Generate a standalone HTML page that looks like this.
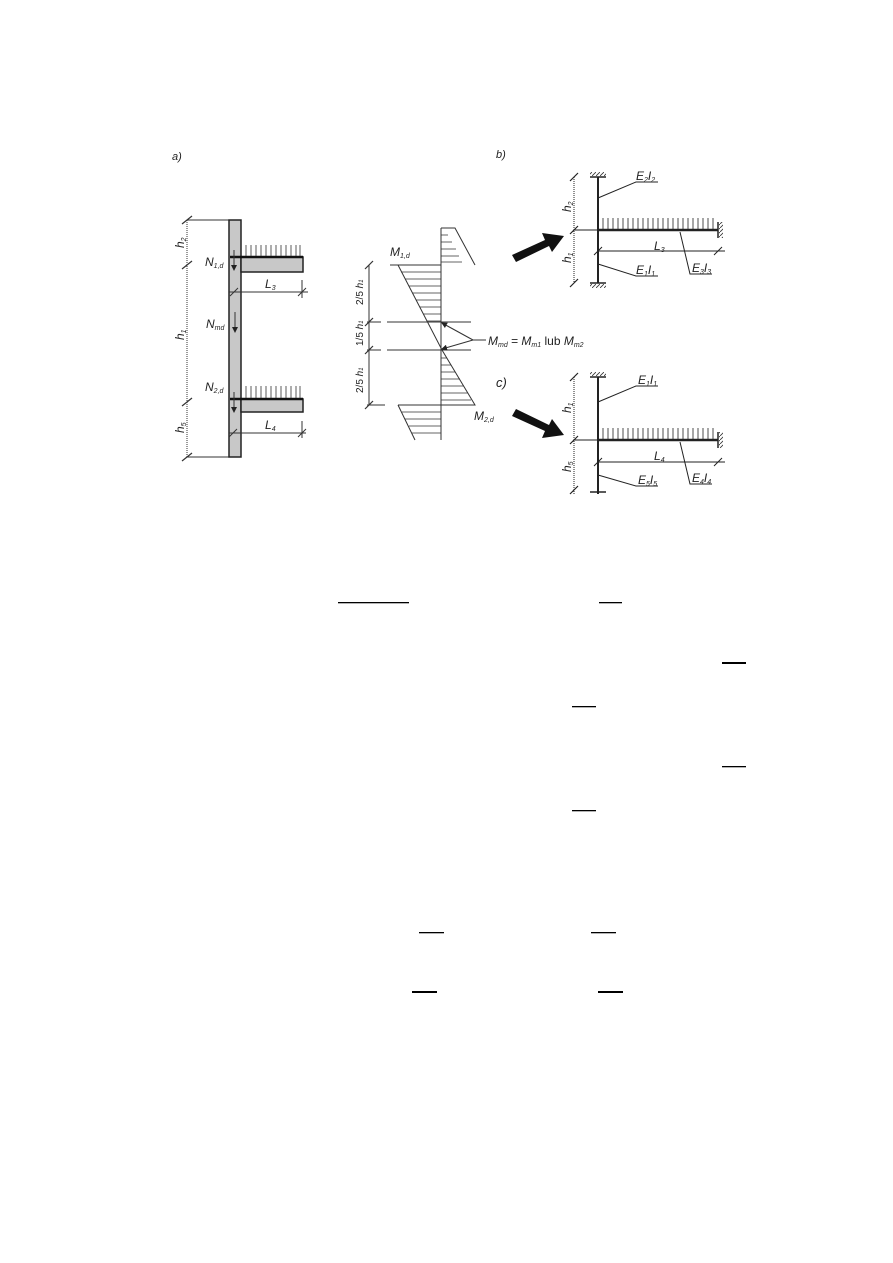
<!DOCTYPE html>
<html><head><meta charset="utf-8"><style>
html,body{margin:0;padding:0;background:#fff}
svg{display:block}
text{font-family:"Liberation Sans",sans-serif;font-style:italic;fill:#222}
</style></head><body>
<svg width="893" height="1263" viewBox="0 0 893 1263" xmlns="http://www.w3.org/2000/svg">
<defs>
<pattern id="hs" width="4" height="4" patternUnits="userSpaceOnUse"><path d="M0 4L4 0" stroke="#333" stroke-width="0.8"/></pattern>
<marker id="ar" markerWidth="6" markerHeight="6" refX="5" refY="3" orient="auto"><path d="M0 0L6 3L0 6z" fill="#222"/></marker>
</defs>
<g stroke="#333" fill="none" stroke-width="1">
<!-- a) -->
<text x="172" y="160" font-size="11" font-style="normal" stroke="none">a)</text>
<line x1="187" y1="220" x2="187" y2="457" stroke-dasharray="1 1"/>
<line x1="187" y1="220" x2="229" y2="220"/>
<line x1="187" y1="457" x2="229" y2="457"/>
<g stroke-width="1.2">
<line x1="182" y1="224" x2="192" y2="216"/><line x1="182" y1="269" x2="192" y2="261"/>
<line x1="182" y1="406" x2="192" y2="398"/><line x1="182" y1="461" x2="192" y2="453"/>
</g>
<rect x="229" y="220" width="12" height="237" fill="#c8c8c8" stroke="#222" stroke-width="1.5"/>
<rect x="241" y="257" width="62" height="15" fill="#c8c8c8" stroke="#222" stroke-width="1.5"/>
<rect x="241" y="399" width="62" height="13" fill="#c8c8c8" stroke="#222" stroke-width="1.5"/>
<line x1="230" y1="257" x2="303" y2="257" stroke="#111" stroke-width="2.5"/>
<line x1="230" y1="399" x2="303" y2="399" stroke="#111" stroke-width="2.5"/>
<g stroke="#333" stroke-width="0.8">
<path d="M246 245v11M251 245v11M256 245v11M261 245v11M266 245v11M271 245v11M276 245v11M281 245v11M286 245v11M291 245v11M296 245v11M300 245v11"/>
<path d="M246 386v12M251 386v12M256 386v12M261 386v12M266 386v12M271 386v12M276 386v12M281 386v12M286 386v12M291 386v12M296 386v12M300 386v12"/>
</g>
<line x1="234" y1="250" x2="234" y2="270" marker-end="url(#ar)"/>
<line x1="235" y1="312" x2="235" y2="332" marker-end="url(#ar)"/>
<line x1="234" y1="392" x2="234" y2="412" marker-end="url(#ar)"/>
<line x1="229" y1="292" x2="308" y2="292"/>
<line x1="229" y1="433" x2="306" y2="433"/>
<line x1="302" y1="280" x2="302" y2="298"/><line x1="302" y1="421" x2="302" y2="438"/>
<line x1="298" y1="296" x2="306" y2="288"/><line x1="298" y1="437" x2="306" y2="429"/>
<line x1="230" y1="296" x2="238" y2="288"/><line x1="229" y1="437" x2="237" y2="429"/>
</g>
<g font-size="12" stroke="none">
<text transform="translate(184,248) rotate(-90)">h<tspan font-size="7" dy="2">2</tspan></text>
<text transform="translate(184,340) rotate(-90)">h<tspan font-size="7" dy="2">1</tspan></text>
<text transform="translate(184,433) rotate(-90)">h<tspan font-size="7" dy="2">5</tspan></text>
<text x="205" y="266">N<tspan font-size="7" dy="2">1,d</tspan></text>
<text x="206" y="328">N<tspan font-size="7" dy="2">md</tspan></text>
<text x="205" y="391">N<tspan font-size="7" dy="2">2,d</tspan></text>
<text x="265" y="288">L<tspan font-size="7" dy="2">3</tspan></text>
<text x="265" y="429">L<tspan font-size="7" dy="2">4</tspan></text>
</g>
<!-- moment diagram -->
<g stroke="#333" fill="none" stroke-width="1">
<line x1="441" y1="228" x2="441" y2="440"/>
<path d="M441 228L455 228L475 265" />
<path d="M398 265L441 265M398 265L442 350L475 405L441 405"/>
<path d="M398 405L415 440M398 405L441 405"/>
<line x1="390" y1="265" x2="398" y2="265"/>
<line x1="367" y1="405" x2="385" y2="405"/>
<line x1="367" y1="322" x2="400" y2="322" stroke-dasharray="14 6"/>
<line x1="400" y1="322" x2="471" y2="322"/>
<line x1="367" y1="350" x2="400" y2="350" stroke-dasharray="14 6"/>
<line x1="400" y1="350" x2="471" y2="350"/>
<g stroke-width="0.7">
<path d="M441 235h7M441 242h11M441 249h15M441 256h18M441 262h21"/>
<path d="M401 272h40M405 279h36M409 286h32M412 293h29M416 300h25M420 307h21M423 314h18M427 321h14"/>
<path d="M441 358h6M441 365h10M441 372h14M441 379h19M441 386h23M441 393h27M441 400h30"/>
<path d="M402 412h39M405 419h36M409 426h32M412 433h29"/>
</g>
<line x1="369" y1="265" x2="369" y2="405"/>
<g stroke-width="1.2"><line x1="365" y1="269" x2="373" y2="261"/><line x1="365" y1="326" x2="373" y2="318"/><line x1="365" y1="354" x2="373" y2="346"/><line x1="365" y1="409" x2="373" y2="401"/></g>
<line x1="473" y1="340" x2="442" y2="323" marker-end="url(#ar)"/>
<line x1="473" y1="340" x2="442" y2="349" marker-end="url(#ar)"/>
<line x1="473" y1="340" x2="486" y2="340"/>
</g>
<g font-size="12" stroke="none">
<text x="390" y="256">M<tspan font-size="7" dy="2">1,d</tspan></text>
<text x="474" y="420">M<tspan font-size="7" dy="2">2,d</tspan></text>
<text x="488" y="345">M<tspan font-size="7" dy="2">md</tspan><tspan dy="-2" font-style="normal"> = </tspan>M<tspan font-size="7" dy="2">m1</tspan><tspan dy="-2" font-style="normal"> lub </tspan>M<tspan font-size="7" dy="2">m2</tspan></text>
<text transform="translate(363,305) rotate(-90)" font-size="10"><tspan font-style="normal">2/5</tspan> h<tspan font-size="6">1</tspan></text>
<text transform="translate(363,346) rotate(-90)" font-size="10"><tspan font-style="normal">1/5</tspan> h<tspan font-size="6">1</tspan></text>
<text transform="translate(363,393) rotate(-90)" font-size="10"><tspan font-style="normal">2/5</tspan> h<tspan font-size="6">1</tspan></text>
<text x="496" y="387" font-style="normal" font-size="13">c)</text>
<text x="496" y="158" font-style="normal" font-size="11">b)</text>
</g>
<!-- big arrows -->
<path d="M512 255L545 240L542 233L564 236L552 252L549 246L516 262Z" fill="#111"/>
<path d="M512 416L545 431L542 438L564 435L552 419L549 425L516 409Z" fill="#111"/>
<!-- b) -->
<g stroke="#222" fill="none" stroke-width="1">
<line x1="598" y1="177" x2="598" y2="283" stroke-width="2"/>
<line x1="590" y1="177" x2="606" y2="177" stroke-width="1.5"/>
<rect x="590" y="172" width="16" height="4" fill="url(#hs)" stroke="none"/>
<line x1="590" y1="283" x2="606" y2="283" stroke-width="1.5"/>
<rect x="590" y="284" width="16" height="4" fill="url(#hs)" stroke="none"/>
<line x1="598" y1="230" x2="718" y2="230" stroke-width="2.5"/>
<line x1="718" y1="222" x2="718" y2="238" stroke-width="1.5"/>
<rect x="719" y="222" width="4" height="16" fill="url(#hs)" stroke="none"/>
<path d="M603 218v11M608 218v11M613 218v11M618 218v11M623 218v11M628 218v11M633 218v11M638 218v11M643 218v11M648 218v11M653 218v11M658 218v11M663 218v11M668 218v11M673 218v11M678 218v11M683 218v11M688 218v11M693 218v11M698 218v11M703 218v11M708 218v11M713 218v11" stroke-width="0.8"/>
<line x1="574" y1="177" x2="574" y2="283" stroke-dasharray="1 1"/>
<line x1="574" y1="230" x2="598" y2="230"/>
<g stroke-width="1.2"><line x1="570" y1="181" x2="578" y2="173"/><line x1="570" y1="234" x2="578" y2="226"/><line x1="570" y1="287" x2="578" y2="279"/></g>
<line x1="598" y1="251" x2="725" y2="251"/>
<line x1="594" y1="255" x2="602" y2="247"/><line x1="714" y1="255" x2="722" y2="247"/>
<path d="M598 198L636 182L658 182"/>
<path d="M598 264L636 276L658 276"/>
<path d="M680 232L690 274L712 274"/>
</g>
<g font-size="12" stroke="none">
<text transform="translate(571,212) rotate(-90)">h<tspan font-size="7" dy="2">2</tspan></text>
<text transform="translate(571,263) rotate(-90)">h<tspan font-size="7" dy="2">1</tspan></text>
<text x="636" y="180">E<tspan font-size="7" dy="2">2</tspan><tspan dy="-2">I</tspan><tspan font-size="7" dy="2">2</tspan></text>
<text x="636" y="274">E<tspan font-size="7" dy="2">1</tspan><tspan dy="-2">I</tspan><tspan font-size="7" dy="2">1</tspan></text>
<text x="692" y="272">E<tspan font-size="7" dy="2">3</tspan><tspan dy="-2">I</tspan><tspan font-size="7" dy="2">3</tspan></text>
<text x="654" y="250">L<tspan font-size="7" dy="2">3</tspan></text>
</g>
<!-- c) -->
<g stroke="#222" fill="none" stroke-width="1">
<line x1="598" y1="377" x2="598" y2="494" stroke-width="2"/>
<line x1="590" y1="377" x2="606" y2="377" stroke-width="1.5"/>
<rect x="590" y="372" width="16" height="4" fill="url(#hs)" stroke="none"/>
<line x1="590" y1="492" x2="606" y2="492" stroke-width="1.5"/>
<line x1="598" y1="440" x2="718" y2="440" stroke-width="2.5"/>
<line x1="718" y1="432" x2="718" y2="448" stroke-width="1.5"/>
<rect x="719" y="432" width="4" height="16" fill="url(#hs)" stroke="none"/>
<path d="M603 428v11M608 428v11M613 428v11M618 428v11M623 428v11M628 428v11M633 428v11M638 428v11M643 428v11M648 428v11M653 428v11M658 428v11M663 428v11M668 428v11M673 428v11M678 428v11M683 428v11M688 428v11M693 428v11M698 428v11M703 428v11M708 428v11M713 428v11" stroke-width="0.8"/>
<line x1="574" y1="377" x2="574" y2="494" stroke-dasharray="1 1"/>
<line x1="574" y1="440" x2="598" y2="440"/>
<g stroke-width="1.2"><line x1="570" y1="381" x2="578" y2="373"/><line x1="570" y1="444" x2="578" y2="436"/><line x1="570" y1="494" x2="578" y2="486"/></g>
<line x1="598" y1="462" x2="725" y2="462"/>
<line x1="594" y1="466" x2="602" y2="458"/><line x1="714" y1="466" x2="722" y2="458"/>
<path d="M598 402L636 386L658 386"/>
<path d="M598 475L636 486L658 486"/>
<path d="M680 442L690 484L712 484"/>
</g>
<g font-size="12" stroke="none">
<text transform="translate(571,413) rotate(-90)">h<tspan font-size="7" dy="2">1</tspan></text>
<text transform="translate(571,472) rotate(-90)">h<tspan font-size="7" dy="2">5</tspan></text>
<text x="638" y="384">E<tspan font-size="7" dy="2">1</tspan><tspan dy="-2">I</tspan><tspan font-size="7" dy="2">1</tspan></text>
<text x="638" y="484">E<tspan font-size="7" dy="2">5</tspan><tspan dy="-2">I</tspan><tspan font-size="7" dy="2">5</tspan></text>
<text x="692" y="482">E<tspan font-size="7" dy="2">4</tspan><tspan dy="-2">I</tspan><tspan font-size="7" dy="2">4</tspan></text>
<text x="654" y="460">L<tspan font-size="7" dy="2">4</tspan></text>
</g>
<!-- fraction bars -->
<g fill="#000">
<rect x="338" y="602" width="71" height="1.3"/>
<rect x="599" y="602" width="23" height="1.3"/>
<rect x="722" y="662" width="24" height="2"/>
<rect x="572" y="706" width="24" height="1.3"/>
<rect x="722" y="766" width="24" height="1.3"/>
<rect x="572" y="810" width="24" height="1.3"/>
<rect x="419" y="932" width="25" height="1.3"/>
<rect x="591" y="932" width="25" height="1.3"/>
<rect x="412" y="991" width="25" height="2"/>
<rect x="598" y="991" width="25" height="2"/>
</g>
</svg>
</body></html>
